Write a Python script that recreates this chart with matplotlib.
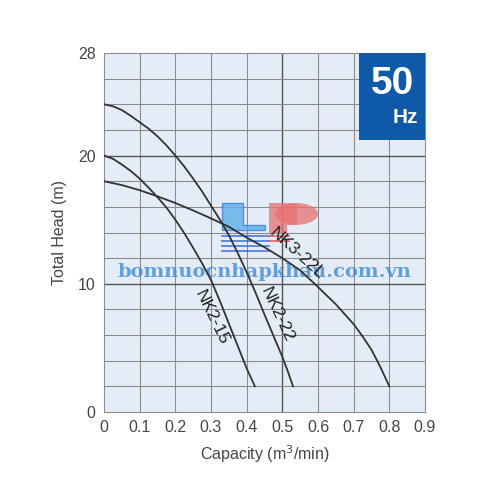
import matplotlib
matplotlib.use("Agg")
import matplotlib.pyplot as plt
from matplotlib.patches import Rectangle, Polygon, Ellipse

plt.rcParams['font.family'] = ['Liberation Sans', 'DejaVu Sans']

# --- pump curves ---
nk2_22_q = [0, 0.025, 0.05, 0.075, 0.1, 0.125, 0.15, 0.175, 0.2, 0.225, 0.25, 0.275,
            0.3, 0.325, 0.35, 0.375, 0.4, 0.425, 0.45, 0.475, 0.5, 0.515, 0.53]
nk2_22_h = [24, 23.85, 23.55, 23.1, 22.6, 22.1, 21.5, 20.8, 20.0, 19.15, 18.2, 17.2,
            16.1, 15.0, 13.8, 12.4, 10.9, 9.3, 7.6, 5.95, 4.3, 3.2, 2.0]

nk2_15_q = [0, 0.025, 0.05, 0.075, 0.1, 0.125, 0.15, 0.175, 0.2, 0.225, 0.25, 0.275,
            0.3, 0.325, 0.35, 0.375, 0.4, 0.423]
nk2_15_h = [20, 19.75, 19.3, 18.8, 18.2, 17.5, 16.75, 15.95, 15.0, 13.95, 12.8, 11.6,
            10.3, 8.65, 6.9, 5.15, 3.4, 2.0]

nk3_22l_q = [0, 0.05, 0.1, 0.15, 0.2, 0.25, 0.3, 0.35, 0.4, 0.45, 0.5, 0.55, 0.6,
             0.65, 0.7, 0.725, 0.75, 0.775, 0.8]
nk3_22l_h = [18, 17.7, 17.3, 16.82, 16.3, 15.72, 15.1, 14.45, 13.6, 12.85, 12.0, 11.05, 9.75,
             8.4, 6.85, 5.9, 4.85, 3.5, 2.0]

x_ticks = [0, 0.1, 0.2, 0.3, 0.4, 0.5, 0.6, 0.7, 0.8, 0.9]
x_labels = ["0", "0.1", "0.2", "0.3", "0.4", "0.5", "0.6", "0.7", "0.8", "0.9"]
y_ticks = [0, 10, 20, 28]

txt_col = "#444444"
line_col = "#333333"

fig = plt.figure(figsize=(5, 5), dpi=100)
ax = fig.add_axes([0.208, 0.176, 0.642, 0.718])
ax.set_facecolor("#e4edf7")
ax.set_xlim(0, 0.9)
ax.set_ylim(0, 28)

# grid: light lines every 0.1 / 2 m, darker at 0.5 and 10, 20
for gx in x_ticks[1:-1]:
    dark = abs(gx - 0.5) < 1e-6
    ax.axvline(gx, color="#555555" if dark else "#8c8c8c", lw=1.0 if dark else 0.8, zorder=1)
for gy in range(2, 28, 2):
    dark = gy in (10, 20)
    ax.axhline(gy, color="#555555" if dark else "#8c8c8c", lw=1.0 if dark else 0.8, zorder=1)

for s in ax.spines.values():
    s.set_color("#8c8c8c")
    s.set_linewidth(0.8)

ax.set_xticks(x_ticks)
ax.set_xticklabels(x_labels)
ax.set_yticks(y_ticks)
ax.tick_params(length=0, labelsize=11.5, labelcolor=txt_col, pad=6)
ax.set_xlabel("Capacity (m$^3$/min)", fontsize=11.5, color=txt_col, labelpad=6)
ax.set_ylabel("Total Head (m)", fontsize=11.5, color=txt_col, labelpad=8)

# watermark logo (behind the curves)
ax.add_patch(Polygon([(0.331, 16.3), (0.39, 16.3), (0.39, 14.6), (0.451, 14.6),
                      (0.451, 14.2), (0.331, 14.2)], closed=True,
                     facecolor="#5fb0e8", edgecolor="#3a7be0", lw=1, alpha=0.8, zorder=2))
red = "#e87070"
ax.add_patch(Rectangle((0.462, 14.0), 0.05, 2.3, facecolor=red,
                       edgecolor="none", alpha=0.75, zorder=2))
ax.add_patch(Rectangle((0.512, 14.6), 0.03, 1.7, facecolor=red,
                       edgecolor="none", alpha=0.75, zorder=2))
ax.add_patch(Ellipse((0.54, 15.45), 0.12, 1.7, facecolor=red,
                     edgecolor="none", alpha=0.75, zorder=2))
for yy in [13.75, 13.35, 12.95, 12.55]:
    ax.plot([0.331, 0.462], [yy, yy], color="#3a6ee0", lw=1.3, alpha=0.85, zorder=2)
for yy in [13.75, 13.35]:
    ax.plot([0.462, 0.52], [yy, yy], color="#e05050", lw=1.3, alpha=0.8, zorder=2)
ax.text(0.45, 10.9, "bomnuocnhapkhau.com.vn", ha="center", va="center",
        fontsize=14, fontweight="bold", family="DejaVu Serif",
        color="#4a90d9", alpha=0.85, zorder=3)

# curves
ax.plot(nk2_22_q, nk2_22_h, color=line_col, lw=1.3, zorder=4)
ax.plot(nk2_15_q, nk2_15_h, color=line_col, lw=1.3, zorder=4)
ax.plot(nk3_22l_q, nk3_22l_h, color=line_col, lw=1.3, zorder=4)

ax.text(0.303, 7.4, "NK2-15", rotation=-64, ha="center", va="center",
        fontsize=12.5, color="#222222", zorder=5)
ax.text(0.484, 7.6, "NK2-22", rotation=-65, ha="center", va="center",
        fontsize=12.5, color="#222222", zorder=5)
ax.text(0.541, 12.4, "NK3-22L", rotation=-42, ha="center", va="center",
        fontsize=12.5, color="#222222", zorder=5)

# 50 Hz badge
ax.add_patch(Rectangle((0.715, 21.2), 0.185, 6.8, facecolor="#0f5aa8",
                       edgecolor="none", zorder=6))
ax.text(0.808, 25.6, "50", ha="center", va="center", fontsize=28,
        fontweight="bold", color="white", zorder=7)
ax.text(0.88, 23.0, "Hz", ha="right", va="center", fontsize=15,
        fontweight="bold", color="white", zorder=7)

fig.savefig("out.png", dpi=100)
